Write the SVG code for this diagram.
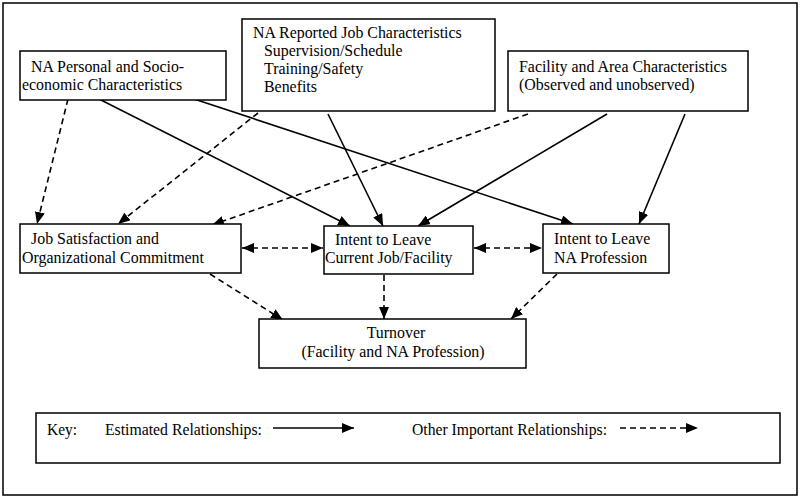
<svg xmlns="http://www.w3.org/2000/svg" width="800" height="499" viewBox="0 0 800 499">
<defs>
<style>
.box{fill:#fff;stroke:#000;stroke-width:1.5}
.t{font-family:"Liberation Serif","Times New Roman",serif;font-size:15.9px;fill:#000}
.k{font-family:"Liberation Serif","Times New Roman",serif;font-size:17px;fill:#000}
.s{stroke:#000;stroke-width:1.6;fill:none}
.d{stroke:#000;stroke-width:1.6;fill:none;stroke-dasharray:6 4}
</style>
<marker id="ah" markerWidth="12" markerHeight="10" refX="12" refY="5" orient="auto" markerUnits="userSpaceOnUse">
<path d="M0,0 L12,5 L0,10 Z" fill="#000"/>
</marker>
<marker id="as" markerWidth="12" markerHeight="10" refX="0" refY="5" orient="auto" markerUnits="userSpaceOnUse">
<path d="M12,0 L0,5 L12,10 Z" fill="#000"/>
</marker>
</defs>
<rect x="0" y="0" width="800" height="499" fill="#fff"/>
<rect x="3" y="3" width="794" height="492" fill="none" stroke="#000" stroke-width="1.5"/>

<g id="connectors">
<line class="s" x1="99" y1="99" x2="350" y2="226" marker-end="url(#ah)"/>
<line class="s" x1="194" y1="99" x2="573" y2="224" marker-end="url(#ah)"/>
<line class="s" x1="328" y1="114" x2="383" y2="226" marker-end="url(#ah)"/>
<line class="s" x1="607" y1="114" x2="418" y2="226" marker-end="url(#ah)"/>
<line class="s" x1="685" y1="114" x2="639" y2="224" marker-end="url(#ah)"/>
<line class="d" x1="68" y1="99" x2="37" y2="224" marker-end="url(#ah)"/>
<line class="d" x1="258" y1="113" x2="118" y2="224" marker-end="url(#ah)"/>
<line class="d" x1="528" y1="114" x2="212" y2="225" marker-end="url(#ah)"/>
<line class="d" x1="242" y1="248" x2="323" y2="248" marker-start="url(#as)" marker-end="url(#ah)"/>
<line class="d" x1="474" y1="248" x2="542" y2="248" marker-start="url(#as)" marker-end="url(#ah)"/>
<line class="d" x1="210" y1="274" x2="283" y2="320" marker-end="url(#ah)"/>
<line class="d" x1="384" y1="275" x2="384" y2="319" marker-end="url(#ah)"/>
<line class="d" x1="557" y1="274" x2="511" y2="319" marker-end="url(#ah)"/>
</g>

<g id="personal">
<rect class="box" x="20" y="51" width="206" height="49"/>
<text class="t" x="31" y="72">NA Personal and Socio-</text>
<text class="t" x="22" y="90">economic Characteristics</text>
</g>
<g id="reported">
<rect class="box" x="242" y="19" width="253" height="92"/>
<text class="t" x="253" y="38">NA Reported Job Characteristics</text>
<text class="t" x="264" y="56">Supervision/Schedule</text>
<text class="t" x="264" y="74">Training/Safety</text>
<text class="t" x="264" y="92">Benefits</text>
</g>
<g id="facility">
<rect class="box" x="508" y="51" width="240" height="60"/>
<text class="t" x="519" y="72">Facility and Area Characteristics</text>
<text class="t" x="519" y="90">(Observed and unobserved)</text>
</g>
<g id="jobsat">
<rect class="box" x="20" y="224" width="221" height="49"/>
<text class="t" x="31" y="244">Job Satisfaction and</text>
<text class="t" x="22" y="263">Organizational Commitment</text>
</g>
<g id="intentcurrent">
<rect class="box" x="324" y="226" width="149" height="48"/>
<text class="t" x="335" y="245">Intent to Leave</text>
<text class="t" x="325" y="263">Current Job/Facility</text>
</g>
<g id="intentna">
<rect class="box" x="543" y="224" width="126" height="49"/>
<text class="t" x="554" y="244">Intent to Leave</text>
<text class="t" x="554" y="263">NA Profession</text>
</g>
<g id="turnover">
<rect class="box" x="259" y="319" width="267" height="49"/>
<text class="t" x="396" y="338" text-anchor="middle">Turnover</text>
<text class="t" x="393" y="357" text-anchor="middle">(Facility and NA Profession)</text>
</g>
<g id="key">
<rect class="box" x="36" y="413" width="744" height="50"/>
<text class="k" x="47" y="435" textLength="30" lengthAdjust="spacingAndGlyphs">Key:</text>
<text class="k" x="105" y="435" textLength="157" lengthAdjust="spacingAndGlyphs">Estimated Relationships:</text>
<line class="s" x1="273" y1="428" x2="354" y2="428" marker-end="url(#ah)"/>
<text class="k" x="412" y="435" textLength="195" lengthAdjust="spacingAndGlyphs">Other Important Relationships:</text>
<line class="d" x1="620" y1="428" x2="698" y2="428" marker-end="url(#ah)"/>
</g>
</svg>
